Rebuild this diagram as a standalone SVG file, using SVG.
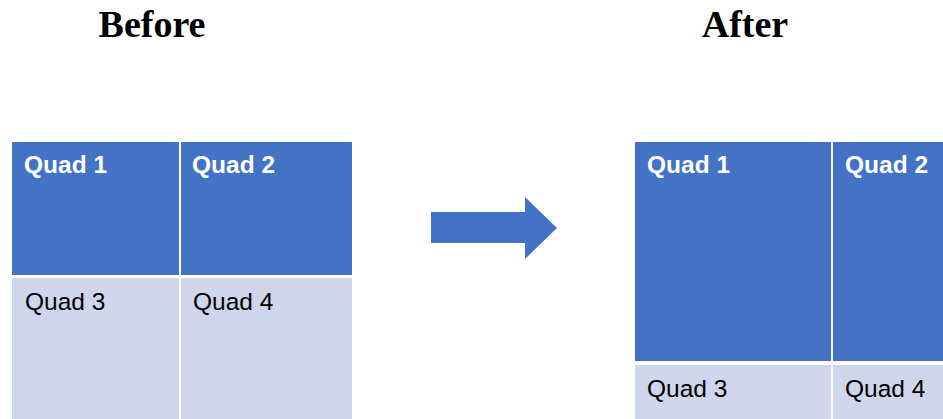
<svg xmlns="http://www.w3.org/2000/svg" width="943" height="419" viewBox="0 0 943 419">
<style>
.title{font-family:"Liberation Serif",serif;font-weight:bold;font-size:38px;fill:#000}
.dark{fill:#4472C4}
.light{fill:#CFD5EA}
.tb{font-family:"Liberation Sans",Arial,sans-serif;font-weight:bold;font-size:24.5px;fill:#fff}
.tr{font-family:"Liberation Sans",Arial,sans-serif;font-size:24.5px;fill:#000}
</style>
<rect width="943" height="419" fill="#fff"/>
<text class="title" x="152" y="37" text-anchor="middle">Before</text>
<text class="title" x="745" y="37" text-anchor="middle">After</text>
<g id="before">
<g id="b-quad1"><rect class="dark" x="12" y="142" width="167" height="133"/><text class="tb" x="24" y="173">Quad 1</text></g>
<g id="b-quad2"><rect class="dark" x="181" y="142" width="171" height="133"/><text class="tb" x="192" y="173">Quad 2</text></g>
<g id="b-quad3"><rect class="light" x="12" y="278" width="167" height="141"/><text class="tr" x="25" y="310">Quad 3</text></g>
<g id="b-quad4"><rect class="light" x="181" y="278" width="171" height="141"/><text class="tr" x="193" y="310">Quad 4</text></g>
</g>
<g id="connectors">
<polygon class="dark" points="431,212 525,212 525,197 557,228 525,259 525,243 431,243"/>
</g>
<g id="after">
<g id="a-quad1"><rect class="dark" x="635" y="142" width="196" height="219"/><text class="tb" x="647" y="173">Quad 1</text></g>
<g id="a-quad2"><rect class="dark" x="833" y="142" width="110" height="219"/><text class="tb" x="845" y="173">Quad 2</text></g>
<g id="a-quad3"><rect class="light" x="635" y="365" width="196" height="54"/><text class="tr" x="647" y="397">Quad 3</text></g>
<g id="a-quad4"><rect class="light" x="833" y="365" width="110" height="54"/><text class="tr" x="845" y="397">Quad 4</text></g>
</g>
</svg>
